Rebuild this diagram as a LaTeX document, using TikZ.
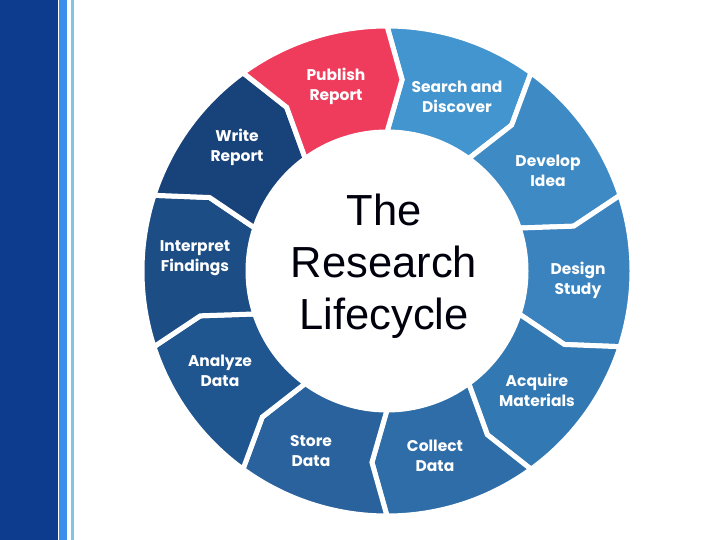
\documentclass[tikz,border=0pt]{standalone}
\usepackage{fontspec}
\setmainfont{Liberation Sans}
\newfontfamily\lblfont{Poppins}
\begin{document}
\begin{tikzpicture}[x=1pt,y=1pt,
  seg/.style={draw=white,line width=5pt,line join=miter},
  lbl/.style={text=white,font=\lblfont\bfseries\fontsize{15.5}{20}\selectfont,align=center,inner sep=0pt},
  title/.style={text=black!95!blue,font=\fontsize{43.5}{52}\selectfont,align=center,inner sep=0pt}]
\definecolor{band}{HTML}{0D3B8E}
\definecolor{stripeA}{HTML}{3B8FEB}
\definecolor{stripeB}{HTML}{80C4E6}
\definecolor{cPub}{HTML}{F03C5C}
\definecolor{cSea}{HTML}{4395CF}
\definecolor{cDev}{HTML}{3E8AC5}
\definecolor{cDes}{HTML}{3A83BF}
\definecolor{cAcq}{HTML}{3278B3}
\definecolor{cCol}{HTML}{2E6DA8}
\definecolor{cSto}{HTML}{2A629D}
\definecolor{cAna}{HTML}{1F5690}
\definecolor{cInt}{HTML}{1C4D85}
\definecolor{cWri}{HTML}{18427A}
\useasboundingbox (0,-540) rectangle (720,0);
\fill[white] (0,-540) rectangle (720,0);
\fill[band] (0,-540) rectangle (58,0);
\fill[stripeA] (59,-540) rectangle (67,0);
\fill[stripeB] (71,-540) rectangle (74,0);
\begin{scope}[shift={(387,-271)}]
\def\Ro{245}\def\Rm{192}\def\Ri{139}\def\dl{4.5}
\foreach \c/\col in {72/cSea,36/cDev,0/cDes,-36/cAcq,-72/cCol,-108/cSto,-144/cAna,-180/cInt,-216/cWri,-252/cPub}{
  \pgfmathsetmacro{\a}{\c-18}
  \pgfmathsetmacro{\b}{\c+18}
  \pgfmathsetmacro{\at}{\a-\dl}
  \pgfmathsetmacro{\bt}{\b-\dl}
  \filldraw[seg,fill=\col] (\b:\Ro) arc[start angle=\b,end angle=\a,radius=\Ro]
    -- (\at:\Rm) -- (\a:\Ri) arc[start angle=\a,end angle=\b,radius=\Ri]
    -- (\bt:\Rm) -- cycle;
}
\end{scope}
\node[title] (title) at (384,-266) {The\\Research\\Lifecycle};
\node[lbl] (pub) at (336,-86) {Publish\\Report};
\node[lbl] (sea) at (457,-97) {Search and\\Discover};
\node[lbl] (dev) at (548,-171) {Develop\\Idea};
\node[lbl] (des) at (578,-280) {Design\\Study};
\node[lbl] (acq) at (537,-390) {Acquire\\Materials};
\node[lbl] (col) at (435,-456) {Collect\\Data};
\node[lbl] (sto) at (311,-451) {Store\\Data};
\node[lbl] (ana) at (220,-371) {Analyze\\Data};
\node[lbl] (int) at (195,-258) {Interpret\\Findings};
\node[lbl] (wri) at (237,-147) {Write\\Report};
\end{tikzpicture}
\end{document}
